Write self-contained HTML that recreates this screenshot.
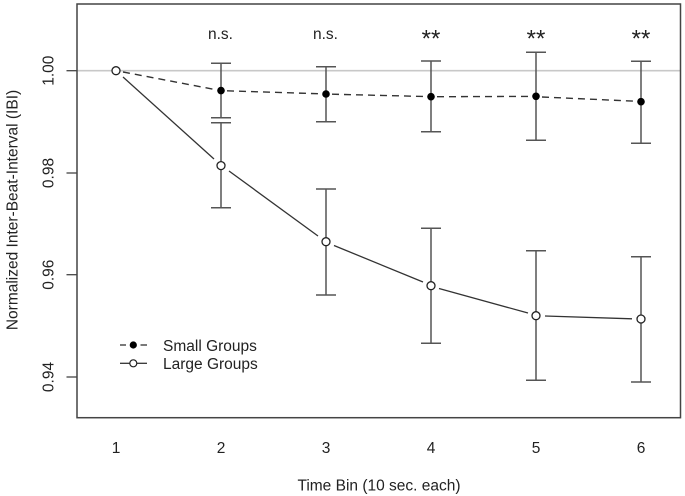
<!DOCTYPE html>
<html><head><meta charset="utf-8"><style>
html,body{margin:0;padding:0;background:#fff;}
svg{display:block;}
text{font-family:"Liberation Sans",Arial,sans-serif;fill:#222;}
</style></head><body>
<svg width="685" height="496" viewBox="0 0 685 496" xmlns="http://www.w3.org/2000/svg">
<rect x="0" y="0" width="685" height="496" fill="#fff"/>
<!-- reference line at 1.00 -->
<line x1="77" y1="70.7" x2="680.5" y2="70.7" stroke="#c8c8c8" stroke-width="1.6"/>
<!-- plot box -->
<rect x="77" y="4" width="603.5" height="413.7" fill="none" stroke="#444" stroke-width="1.5"/>
<!-- y ticks -->
<g stroke="#444" stroke-width="1.3">
<line x1="66.5" y1="70.7" x2="77" y2="70.7"/>
<line x1="66.5" y1="173" x2="77" y2="173"/>
<line x1="66.5" y1="274.7" x2="77" y2="274.7"/>
<line x1="66.5" y1="377" x2="77" y2="377"/>
</g>
<g font-size="15.5" text-anchor="middle">
<text transform="translate(53.5,70.7) rotate(-90)">1.00</text>
<text transform="translate(53.5,173) rotate(-90)">0.98</text>
<text transform="translate(53.5,274.7) rotate(-90)">0.96</text>
<text transform="translate(53.5,377) rotate(-90)">0.94</text>
<text transform="translate(17.5,210) rotate(-90)">Normalized Inter-Beat-Interval (IBI)</text>
<text x="116" y="453">1</text>
<text x="221" y="453">2</text>
<text x="326" y="453">3</text>
<text x="431" y="453">4</text>
<text x="536" y="453">5</text>
<text x="641" y="453">6</text>
<text x="379" y="490.5">Time Bin (10 sec. each)</text>
<text x="220.5" y="39">n.s.</text>
<text x="325.5" y="39">n.s.</text>
</g>
<g font-size="24" text-anchor="middle">
<text x="431" y="46.5">**</text>
<text x="536" y="46.5">**</text>
<text x="641" y="46.5">**</text>
</g>
<!-- error bars -->
<g stroke="#555" stroke-width="1.5" fill="none">
<path d="M221,63.3V117.7 M211,63.3H231 M211,117.7H231"/>
<path d="M326,66.7V121.7 M316,66.7H336 M316,121.7H336"/>
<path d="M431,61V131.7 M421,61H441 M421,131.7H441"/>
<path d="M536,52.3V140.3 M526,52.3H546 M526,140.3H546"/>
<path d="M641,61.3V143.3 M631,61.3H651 M631,143.3H651"/>
<path d="M221,122.7V207.7 M211,122.7H231 M211,207.7H231"/>
<path d="M326,189V295 M316,189H336 M316,295H336"/>
<path d="M431,228.3V343.3 M421,228.3H441 M421,343.3H441"/>
<path d="M536,250.7V380.3 M526,250.7H546 M526,380.3H546"/>
<path d="M641,256.7V382 M631,256.7H651 M631,382H651"/>
</g>
<!-- small groups dashed line -->
<g stroke="#333" stroke-width="1.4" stroke-dasharray="7 5" fill="none">
<line x1="123" y1="72" x2="215" y2="89.5"/>
<line x1="227" y1="90.8" x2="320" y2="93.8"/>
<line x1="332" y1="94.2" x2="425" y2="96.5"/>
<line x1="437" y1="96.7" x2="530" y2="96.4"/>
<line x1="542" y1="97" x2="635" y2="101.2"/>
</g>
<!-- large groups solid line -->
<g stroke="#333" stroke-width="1.3" fill="none">
<line x1="123" y1="77" x2="214" y2="159"/>
<line x1="229" y1="171" x2="318" y2="236"/>
<line x1="334" y1="245.5" x2="423" y2="282"/>
<line x1="439" y1="288.5" x2="528" y2="313"/>
<line x1="545" y1="316" x2="632" y2="318.8"/>
</g>
<!-- points -->
<g fill="#000">
<circle cx="221" cy="90.6" r="3.8"/>
<circle cx="326" cy="94" r="3.8"/>
<circle cx="431" cy="96.7" r="3.8"/>
<circle cx="536" cy="96.3" r="3.8"/>
<circle cx="641" cy="101.7" r="3.8"/>
</g>
<g fill="#fff" stroke="#222" stroke-width="1.3">
<circle cx="116" cy="70.7" r="4"/>
<circle cx="221" cy="165.6" r="4"/>
<circle cx="326" cy="241.7" r="4"/>
<circle cx="431" cy="285.7" r="4"/>
<circle cx="536" cy="315.7" r="4"/>
<circle cx="641" cy="319" r="4"/>
</g>
<!-- legend -->
<g stroke="#333" stroke-width="1.3">
<line x1="120" y1="345" x2="126" y2="345"/>
<line x1="140.5" y1="345" x2="147" y2="345"/>
<line x1="120" y1="363.3" x2="129.5" y2="363.3"/>
<line x1="137" y1="363.3" x2="147" y2="363.3"/>
</g>
<circle cx="133.3" cy="345" r="3.6" fill="#000"/>
<circle cx="133.3" cy="363.3" r="3.5" fill="#fff" stroke="#222" stroke-width="1.2"/>
<g font-size="15.5">
<text x="163" y="350.8">Small Groups</text>
<text x="163" y="369.2">Large Groups</text>
</g>
</svg>
</body></html>
